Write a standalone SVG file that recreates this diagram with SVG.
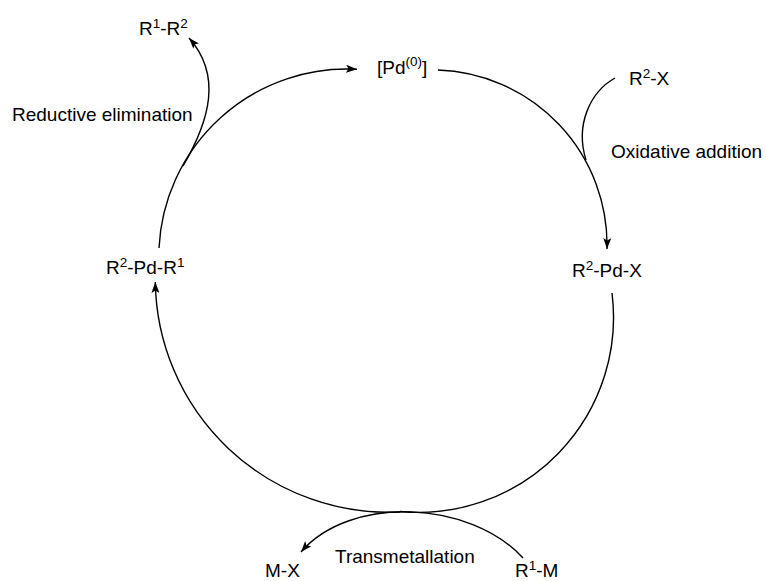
<svg xmlns="http://www.w3.org/2000/svg" width="766" height="581" viewBox="0 0 766 581">
<style>
  text { font-family: "Liberation Sans", Arial, sans-serif; font-size: 19px; fill: #000; }
  .sup { font-size: 13.5px; }
  .ln { fill: none; stroke: #000; stroke-width: 1.4; }
</style>
<defs>
  <marker id="ah" markerWidth="12" markerHeight="8" refX="11" refY="4" orient="auto" markerUnits="userSpaceOnUse">
    <path d="M0,0 L11,4 L0,8 L2.5,4 z" fill="#000"/>
  </marker>
</defs>
<rect width="766" height="581" fill="#fff"/>

<g id="connectors">
  <path class="ln" d="M 159 248 A 188 188 0 0 1 357 69.3" marker-end="url(#ah)"/>
  <path class="ln" d="M 438 70 A 175 175 0 0 1 607 249" marker-end="url(#ah)"/>
  <path class="ln" d="M 612 293 A 195 195 0 0 1 400 511.5"/>
  <path class="ln" d="M 400 512 A 233.5 233.5 0 0 1 155.3 282" marker-end="url(#ah)"/>
  <path class="ln" d="M 183 166 C 210 120, 222 75, 189 38" marker-end="url(#ah)"/>
  <path class="ln" d="M 615 78 C 590 92, 575 125, 586 160"/>
  <path class="ln" d="M 523 558 C 470 500, 350 495, 301 552" marker-end="url(#ah)"/>
</g>

<g id="pd0">
  <text x="377" y="74">[Pd<tspan class="sup" dy="-8">(0)</tspan><tspan dy="8">]</tspan></text>
</g>
<g id="r2x">
  <text x="629" y="85">R<tspan class="sup" dy="-7">2</tspan><tspan dy="7">-X</tspan></text>
</g>
<g id="oxidative-addition">
  <text x="611" y="158">Oxidative addition</text>
</g>
<g id="r2pdx">
  <text x="572" y="277">R<tspan class="sup" dy="-7">2</tspan><tspan dy="7">-Pd-X</tspan></text>
</g>
<g id="r2pdr1">
  <text x="106" y="274">R<tspan class="sup" dy="-7">2</tspan><tspan dy="7">-Pd-R</tspan><tspan class="sup" dy="-7">1</tspan></text>
</g>
<g id="r1r2">
  <text x="139" y="35">R<tspan class="sup" dy="-7">1</tspan><tspan dy="7">-R</tspan><tspan class="sup" dy="-7">2</tspan></text>
</g>
<g id="reductive-elimination">
  <text x="12" y="121">Reductive elimination</text>
</g>
<g id="transmetallation">
  <text x="335" y="563">Transmetallation</text>
</g>
<g id="mx">
  <text x="265" y="577">M-X</text>
</g>
<g id="r1m">
  <text x="515" y="577">R<tspan class="sup" dy="-7">1</tspan><tspan dy="7">-M</tspan></text>
</g>
</svg>
